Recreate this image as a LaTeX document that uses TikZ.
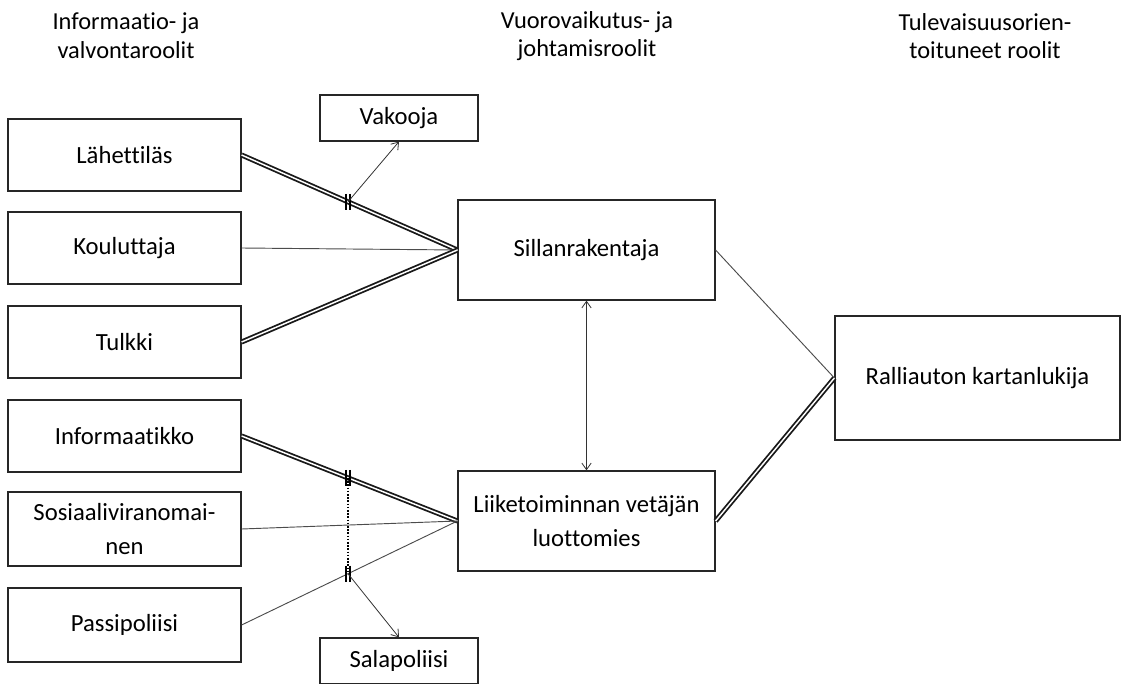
\documentclass[tikz,border=0pt]{standalone}
\usepackage{fontspec}
\setmainfont{Carlito}[Ligatures=NoCommon]
\usetikzlibrary{arrows.meta}
\begin{document}
\begin{tikzpicture}[x=0.75pt,y=-0.75pt,
  box/.style={draw=black!85,line width=0.9pt,minimum width=233*0.75pt,minimum height=72*0.75pt,inner sep=0pt,align=center,font=\fontsize{18.5}{25}\selectfont},
  mbox/.style={box,minimum width=257*0.75pt,minimum height=100*0.75pt},
  sbox/.style={box,minimum width=158*0.75pt,minimum height=46*0.75pt},
  head/.style={align=center,font=\fontsize{18.3}{21.5}\selectfont},
  single/.style={draw=black!70,line width=0.7pt},
  dbl/.style={draw=black!90,line width=0.45pt*3,double=white,double distance=1.1pt},
  arr/.style={draw=black!80,line width=0.6pt,-{Straight Barb[length=5pt,width=7pt]}},
  darr/.style={draw=black!80,line width=0.6pt,{Straight Barb[length=5pt,width=7pt]}-{Straight Barb[length=5pt,width=7pt]}},
  tick/.style={draw=black,line width=1pt}]
\useasboundingbox (0,0) rectangle (1124,684);
\clip (0,0) rectangle (1124,684);
% headers
\node[head] (h1) at (126,36) {Informaatio- ja\\valvontaroolit};
\node[head] (h2) at (587,36) {Vuorovaikutus- ja\\johtamisroolit};
\node[head] (h3) at (985,36) {Tulevaisuusorien-\\toituneet roolit};
% left boxes
\node[box] (lah) at (124.5,155) {Lähettiläs};
\node[box] (kou) at (124.5,248) {Kouluttaja};
\node[box] (tul) at (124.5,342) {Tulkki};
\node[box] (inf) at (124.5,436) {Informaatikko};
\node[box,minimum height=74*0.75pt] (sos) at (124.5,529) {Sosiaaliviranomai-\\nen};
\node[box,minimum height=74*0.75pt] (pas) at (124.5,625) {Passipoliisi};
% small boxes
\node[sbox] (vak) at (399,118) {Vakooja};
\node[sbox] (sal) at (399,661) {Salapoliisi};
% middle
\node[mbox] (sil) at (586.5,250) {Sillanrakentaja};
\node[mbox] (lii) at (586.5,521) {Liiketoiminnan vetäjän\\luottomies};
% right
\node[box,minimum width=285*0.75pt,minimum height=124*0.75pt] (ral) at (977.5,378) {Ralliauton kartanlukija};
% connectors
\draw[dbl] (lah.east) -- coordinate[pos=0.493] (t1) (sil.west);
\draw[single] (kou.east) -- (sil.west);
\draw[dbl] (tul.east) -- (sil.west);
\draw[dbl] (inf.east) -- coordinate[pos=0.493] (t2) (lii.west);
\draw[single] (sos.east) -- (lii.west);
\draw[single] (pas.east) -- coordinate[pos=0.493] (t3) (lii.west);
\draw[single] (sil.east) -- (ral.west);
\draw[dbl] (lii.east) -- (ral.west);
\draw[darr] (sil.south) -- (lii.north);
% ticks
\foreach \t in {t1,t2,t3}{
  \draw[tick] ([shift={(-2,-8)}]\t) -- ([shift={(-2,8)}]\t);
  \draw[tick] ([shift={(2,-8)}]\t) -- ([shift={(2,8)}]\t);
}
\draw[black,line width=1.4pt,dash pattern=on 1.2pt off 1.2pt] (t2) -- (t3);
\draw[arr] (t1) -- (vak.south);
\draw[arr] (t3) -- (sal.north);
\end{tikzpicture}
\end{document}
